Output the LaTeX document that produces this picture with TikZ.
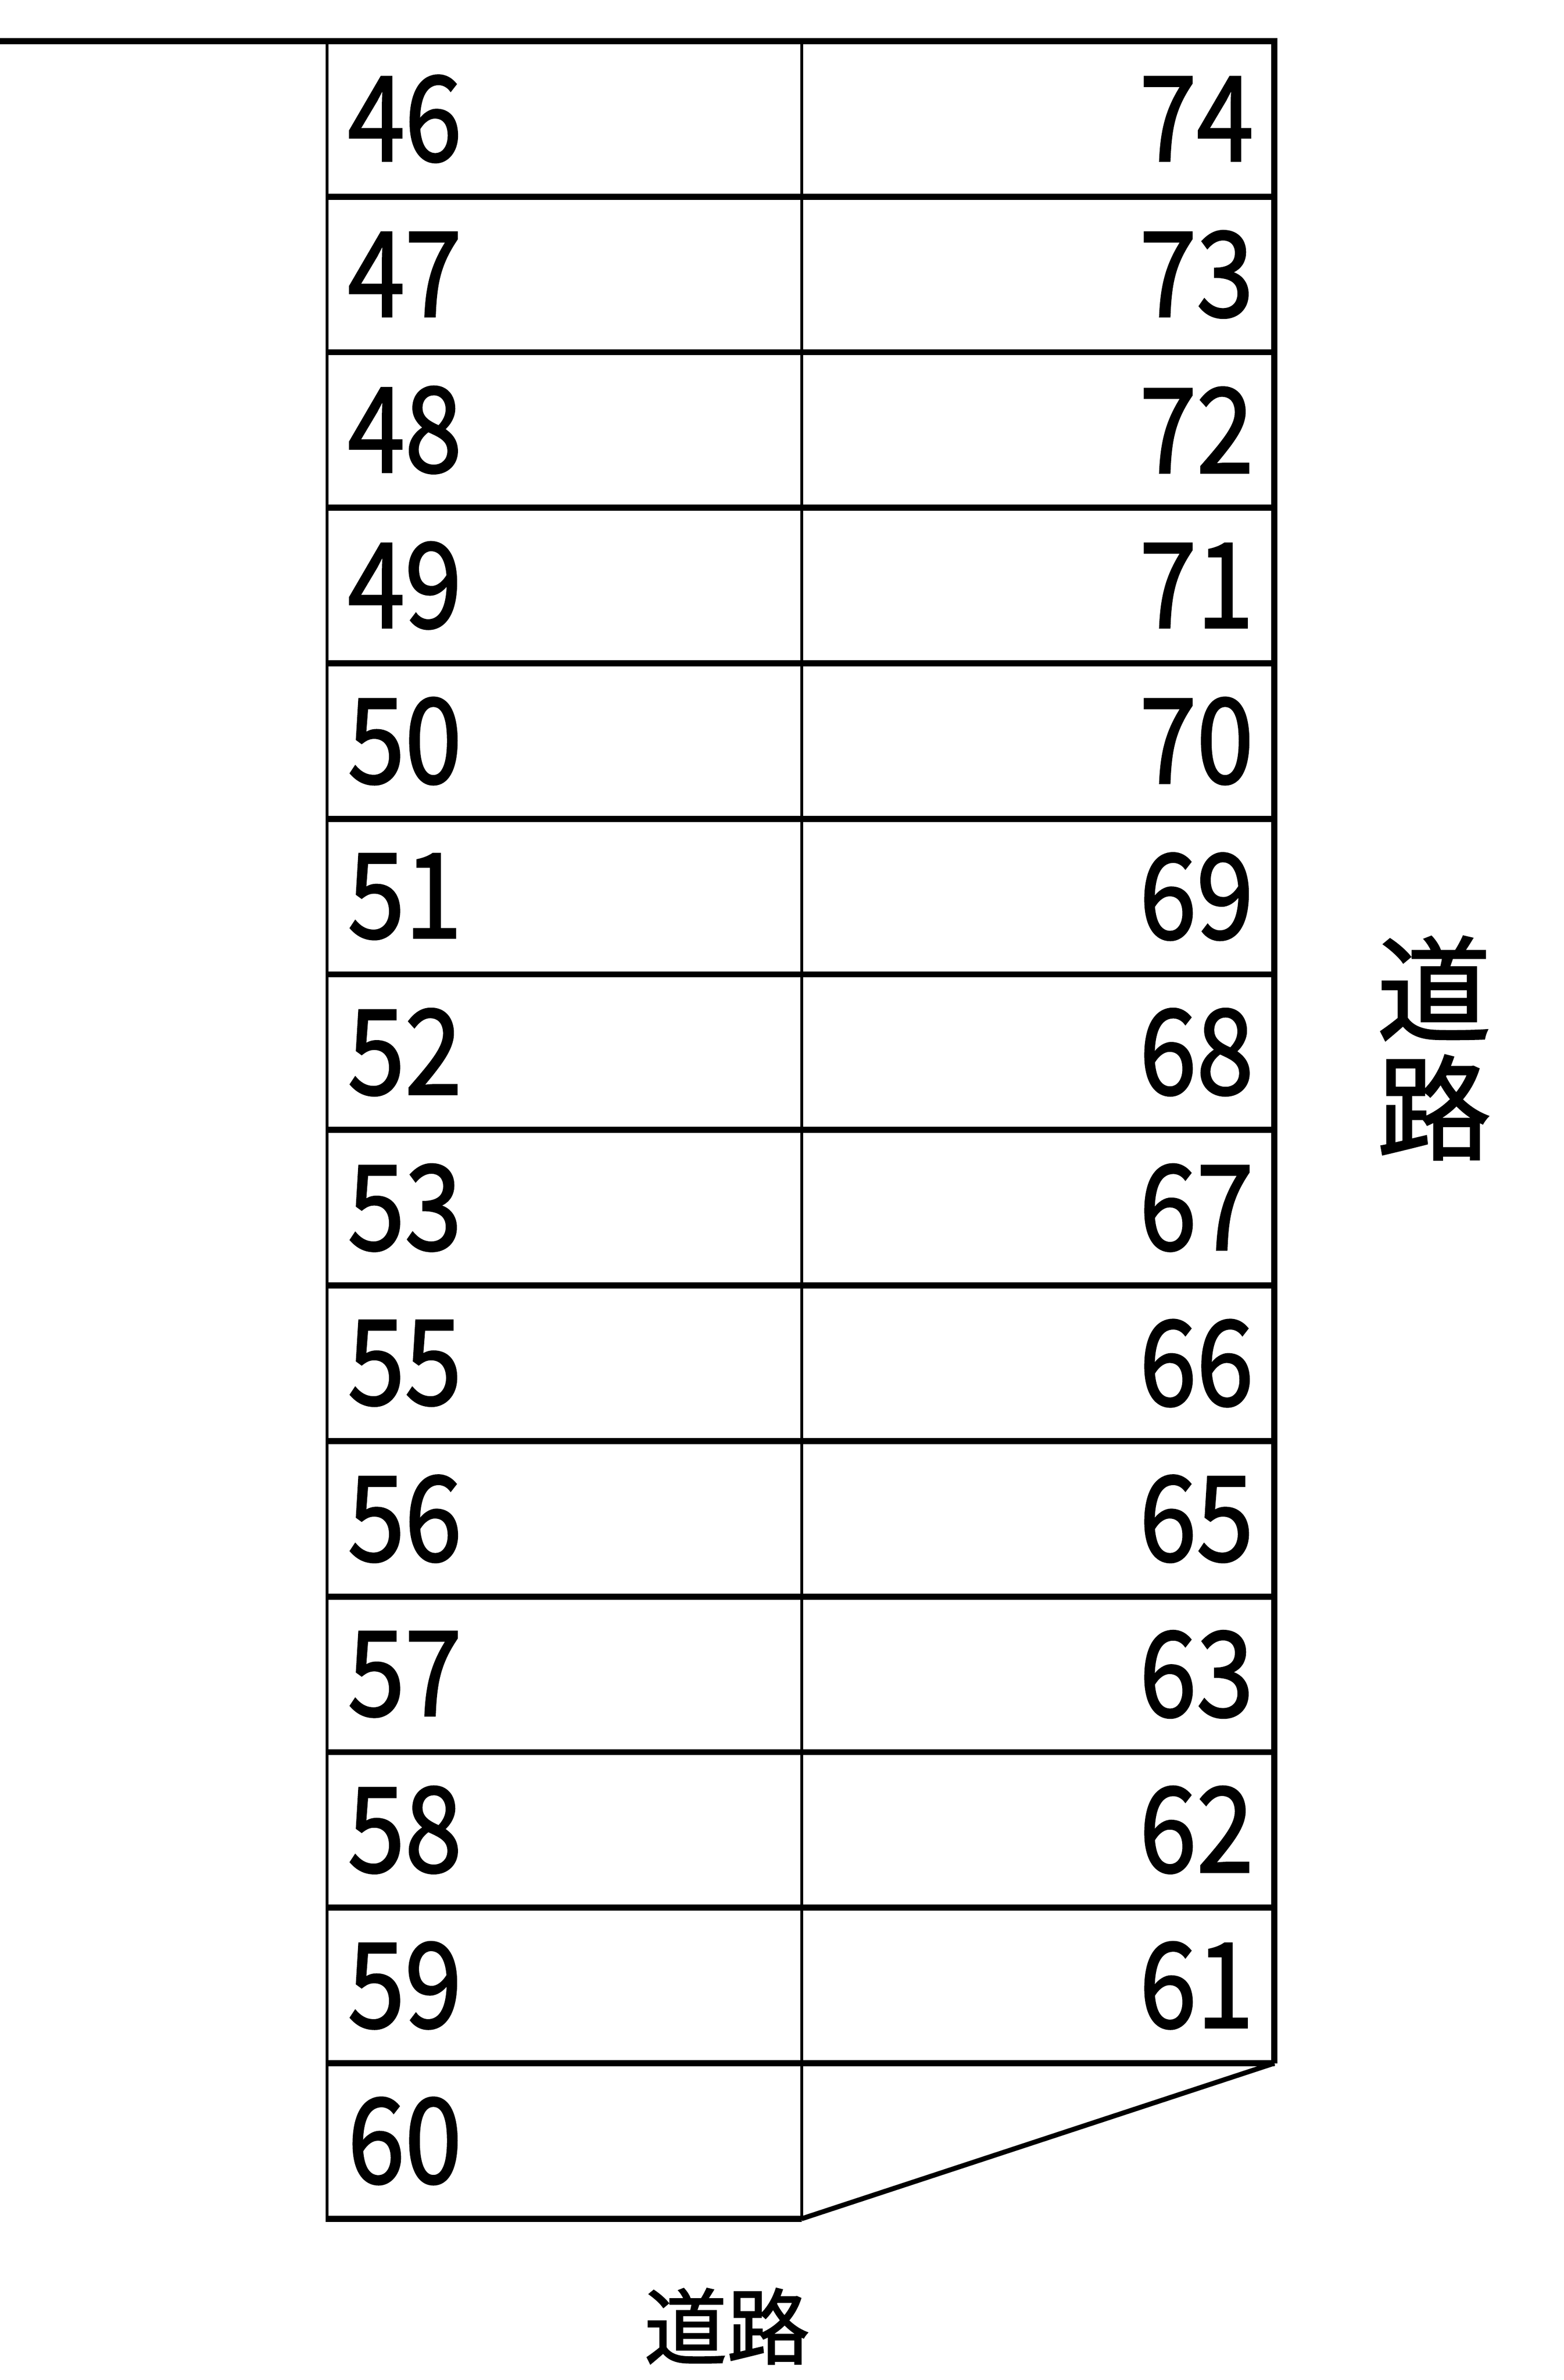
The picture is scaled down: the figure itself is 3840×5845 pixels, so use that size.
\documentclass[tikz,border=0pt]{standalone}
\usepackage{fontspec}
\setmainfont{Noto Sans CJK JP}[FakeBold=1.6,AutoFakeBold=1.6]
\begin{document}
\begin{tikzpicture}[x=0.1pt,y=-0.1pt,
  thickline/.style={line width=1.5pt},
  thinline/.style={line width=0.7pt},
  num/.style={inner sep=0pt, font=\fontsize{29}{29}\selectfont\bfseries},
  road/.style={inner sep=0pt, align=center}]
\useasboundingbox (0,0) rectangle (3840,5845);
% corner coordinates
\coordinate (tl) at (0,101);
\coordinate (tr) at (3129,101);
\coordinate (lt) at (803,101);
\coordinate (lb) at (803,5456);
\coordinate (mt) at (1968,101);
\coordinate (mb) at (1968,5449);
\coordinate (rb) at (3129,5067);
% top line and right edge
\draw[thickline, line cap=rect] (tl) -- (tr);
\draw[thickline] (3129,93) -- (rb);
% vertical thin lines
\draw[thinline] (lt) -- (lb);
\draw[thinline] (mt) -- (mb);
% row separators
\foreach \i in {1,...,13} {
  \draw[thickline] (803,101+382*\i) -- (3129,101+382*\i);
}
\draw[thickline] (799,5449) -- (mb);
% slanted edge
\draw[line width=1.2pt] (mb) -- (rb);
% left column numbers
\foreach \n [count=\i from 0] in {46,47,48,49,50,51,52,53,55,56,57,58,59,60} {
  \node[num, anchor=west] (L\n) at (852,292+382*\i) {\scalebox{0.87}[1]{\n}};
}
% right column numbers
\foreach \n [count=\i from 0] in {74,73,72,71,70,69,68,67,66,65,63,62,61} {
  \node[num, anchor=east] (R\n) at (3080,292+382*\i) {\scalebox{0.87}[1]{\n}};
}
% road labels
\node[road, font=\fontsize{28}{29.2}\selectfont\bfseries] (roadR) at (3521,2574) {道\\路};
\node[road, font=\fontsize{20.3}{20.3}\selectfont\bfseries] (roadB) at (1785,5713) {道路};
\end{tikzpicture}
\end{document}
